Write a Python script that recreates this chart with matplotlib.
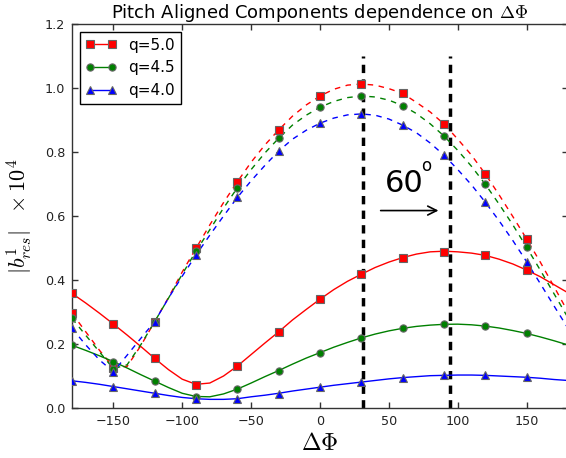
import numpy as np
import matplotlib
matplotlib.use("Agg")
import matplotlib.pyplot as plt
from matplotlib.lines import Line2D

plt.rcParams['mathtext.fontset'] = 'cm'
plt.rcParams['font.family'] = ['DejaVu Sans']

# marker positions (degrees)
x_pts = [-180, -150, -120, -90, -60, -30, 0, 30, 60, 90, 120, 150]

# upper (dashed) marker sets
q50_upper = [0.296, 0.125, 0.270, 0.499, 0.707, 0.869, 0.975, 1.0125, 0.983, 0.8875, 0.731, 0.528]
q45_upper = [0.280, 0.121, 0.270, 0.490, 0.688, 0.843, 0.940, 0.975, 0.945, 0.850, 0.699, 0.502]
q40_upper = [0.249, 0.113, 0.270, 0.478, 0.658, 0.803, 0.890, 0.919, 0.884, 0.790, 0.643, 0.457]

# lower (solid) marker sets
q50_lower = [0.358, 0.2625, 0.155, 0.072, 0.131, 0.238, 0.340, 0.418, 0.470, 0.489, 0.477, 0.431]
q45_lower = [0.196, 0.145, 0.084, 0.035, 0.059, 0.117, 0.173, 0.219, 0.249, 0.2615, 0.256, 0.233]
q40_lower = [0.083, 0.067, 0.046, 0.028, 0.028, 0.045, 0.065, 0.081, 0.095, 0.102, 0.102, 0.098]

# curves, sampled every 10 degrees from -180 to 180
x_curve = list(range(-180, 181, 10))
q50_dash = [0.296, 0.238, 0.180, 0.128, 0.130, 0.195, 0.270, 0.345, 0.425, 0.499,
            0.572, 0.642, 0.707, 0.768, 0.822, 0.869, 0.912, 0.947, 0.975, 0.996,
            1.009, 1.0125, 1.009, 0.998, 0.983, 0.955, 0.925, 0.8875, 0.840, 0.790,
            0.731, 0.666, 0.598, 0.528, 0.455, 0.378, 0.300]
q45_dash = [0.280, 0.227, 0.175, 0.123, 0.135, 0.198, 0.270, 0.343, 0.418, 0.490,
            0.557, 0.625, 0.688, 0.745, 0.797, 0.843, 0.884, 0.915, 0.940, 0.958,
            0.970, 0.975, 0.972, 0.962, 0.945, 0.920, 0.888, 0.850, 0.805, 0.755,
            0.699, 0.637, 0.572, 0.502, 0.430, 0.356, 0.282]
q40_dash = [0.249, 0.197, 0.150, 0.113, 0.165, 0.218, 0.270, 0.343, 0.412, 0.478,
            0.540, 0.600, 0.658, 0.710, 0.758, 0.803, 0.840, 0.868, 0.890, 0.906,
            0.916, 0.919, 0.915, 0.903, 0.884, 0.860, 0.828, 0.790, 0.745, 0.697,
            0.643, 0.585, 0.523, 0.457, 0.388, 0.318, 0.249]
q50_solid = [0.358, 0.328, 0.296, 0.2625, 0.228, 0.192, 0.155, 0.120, 0.090, 0.074,
             0.078, 0.100, 0.131, 0.167, 0.203, 0.238, 0.275, 0.308, 0.340, 0.370,
             0.396, 0.418, 0.439, 0.456, 0.470, 0.481, 0.488, 0.490, 0.488, 0.484,
             0.477, 0.465, 0.450, 0.431, 0.410, 0.385, 0.360]
q45_solid = [0.196, 0.180, 0.163, 0.145, 0.125, 0.104, 0.084, 0.064, 0.046, 0.036,
             0.035, 0.044, 0.059, 0.078, 0.098, 0.117, 0.137, 0.156, 0.173, 0.190,
             0.205, 0.219, 0.231, 0.241, 0.249, 0.255, 0.259, 0.2615, 0.262, 0.260,
             0.256, 0.250, 0.242, 0.233, 0.222, 0.210, 0.197]
q40_solid = [0.085, 0.080, 0.074, 0.067, 0.060, 0.053, 0.046, 0.039, 0.033, 0.029,
             0.027, 0.027, 0.029, 0.035, 0.040, 0.046, 0.053, 0.059, 0.065, 0.071,
             0.076, 0.081, 0.086, 0.091, 0.095, 0.098, 0.101, 0.102, 0.103, 0.103,
             0.102, 0.100, 0.098, 0.096, 0.093, 0.089, 0.086]

labels = ['q=5.0', 'q=4.5', 'q=4.0']
colors = ['red', 'green', 'blue']
markers = ['s', 'o', '^']

vlines_x = [31.5, 94]
arrow_start, arrow_end, arrow_y = 42, 88, 0.617

fig = plt.figure(figsize=(5.66, 4.58), dpi=100)
ax = fig.add_axes([72/566, 50/458, 496/566, 384/458])

for xv in vlines_x:
    ax.plot([xv, xv], [0, 1.1], color='k', lw=2.5, dashes=(2.4, 1.8), zorder=1)

mk = dict(ms=5.2, mec='#666666', mew=0.8, ls='none', zorder=4)
for c, m, dash, solid, up, lo in zip(colors, markers,
                                     [q50_dash, q45_dash, q40_dash],
                                     [q50_solid, q45_solid, q40_solid],
                                     [q50_upper, q45_upper, q40_upper],
                                     [q50_lower, q45_lower, q40_lower]):
    ax.plot(x_curve, dash, color=c, lw=1.0, dashes=(4, 4), zorder=2)
    ax.plot(x_curve, solid, color=c, lw=1.0, zorder=2)
    ax.plot(x_pts, up, marker=m, color=c, **mk)
    ax.plot(x_pts, lo, marker=m, color=c, **mk)

ax.annotate('', xy=(arrow_end, arrow_y), xytext=(arrow_start, arrow_y),
            arrowprops=dict(arrowstyle='->', color='k', lw=1.2, mutation_scale=16))
ax.text(47, 0.675, '60', fontsize=22, ha='left', va='baseline')
ax.text(73.5, 0.742, 'o', fontsize=12, ha='left', va='baseline')

handles = [Line2D([0], [0], color=c, marker=m, ms=5.2, mec='#666666', mew=0.8, lw=1.0)
           for c, m in zip(colors, markers)]
leg = ax.legend(handles, labels, loc='upper left', numpoints=2, fontsize=11,
                fancybox=False, framealpha=1, edgecolor='k', handlelength=2.0)
leg.get_frame().set_linewidth(1.0)

ax.set_xlim(-180, 180)
ax.set_ylim(0, 1.2)
ax.set_xticks([-150, -100, -50, 0, 50, 100, 150])
ax.set_yticks([0.0, 0.2, 0.4, 0.6, 0.8, 1.0, 1.2])
ax.set_yticklabels(['0.0', '0.2', '0.4', '0.6', '0.8', '1.0', '1.2'])
ax.tick_params(direction='in', top=True, right=True, length=4.5, width=1,
               labelsize=9.2, pad=5, colors='#333333', labelcolor='#222222')
for s in ax.spines.values():
    s.set_linewidth(1.0)
    s.set_color('#333333')

ax.set_title('Pitch Aligned Components dependence on $\\Delta\\Phi$', fontsize=13, pad=4)
ax.set_xlabel('$\\Delta\\Phi$', fontsize=17, labelpad=2)
ax.set_ylabel('$|b^1_{res}|\\ \\ \\times 10^4$', fontsize=16, labelpad=7)

fig.savefig('out.png', dpi=100)
